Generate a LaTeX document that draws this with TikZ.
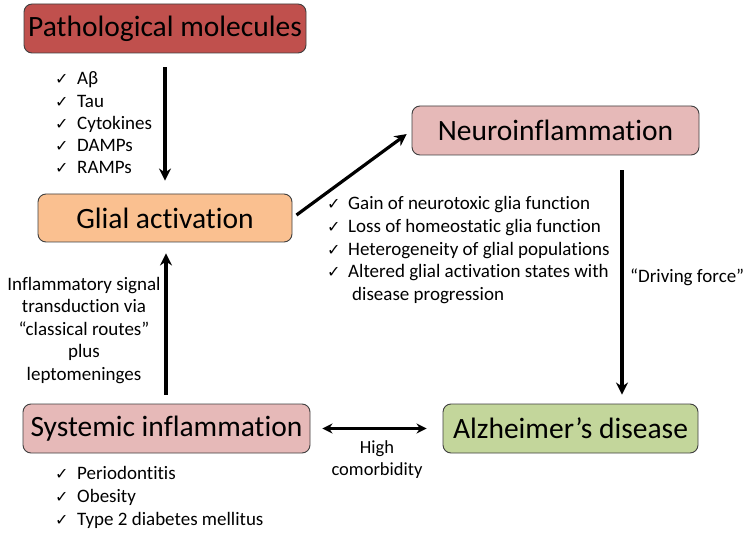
\documentclass[tikz,border=0pt]{standalone}
\usepackage{fontspec}
\setmainfont{Carlito}[Ligatures=NoCommon]
\newfontfamily\symfont{DejaVu Sans}
\usepackage{tikz}
\usetikzlibrary{arrows.meta}
\usetikzlibrary{positioning}

\definecolor{pathored}{HTML}{C0504D}
\definecolor{glialorange}{HTML}{FAC090}
\definecolor{inflpink}{HTML}{E6B9B8}
\definecolor{adgreen}{HTML}{C3D69B}
\definecolor{boxline}{HTML}{3F3F3F}

\newcommand{\ck}{{\symfont\fontsize{16}{16}\selectfont ✓}}

\tikzset{
  box/.style={draw=boxline, line width=0.9pt, rounded corners=8pt, inner sep=0pt,
              font=\fontsize{29.5}{34}\selectfont},
  item/.style={anchor=base west, inner sep=0pt, font=\fontsize{19}{22}\selectfont},
  chk/.style={anchor=base west, inner sep=0pt},
  arr/.style={line width=3.2pt, -{Stealth[length=12pt,width=12pt]}},
  darr/.style={line width=3.2pt, {Stealth[length=10pt,width=10pt]}-{Stealth[length=10pt,width=10pt]}}
}

\begin{document}
\begin{tikzpicture}[x=1pt, y=-1pt]
  \useasboundingbox (0,0) rectangle (749,537);

	%boxes
  \node[box, fill=pathored, minimum width=282pt, minimum height=49pt] (patho) at (165,28.5) {Pathological molecules};
  \node[box, fill=glialorange, minimum width=254pt, minimum height=48pt] (glial) at (165,218) {Glial activation};
  \node[box, fill=inflpink, minimum width=287pt, minimum height=49pt] (neuro) at (555.5,130.5) {Neuroinflammation};
  \node[box, fill=inflpink, minimum width=287pt, minimum height=49pt] (sys) at (166.5,428.5) {Systemic inflammation};
  \node[box, fill=adgreen, minimum width=255pt, minimum height=49pt] (alz) at (570.5,428.5) {Alzheimer’s disease};

	%molecule list
    \foreach \i/\txt in {0/Aβ,1/Tau,2/Cytokines,3/DAMPs,4/RAMPs}{
        \node[chk] (pc\i) at (55, 85+\i*22.2) {\ck};
        \node[item] (pm\i) at (77, 85+\i*22.2) {\txt};
    }

	%glia list
    \foreach \i/\txt in {0/Gain of neurotoxic glia function,1/Loss of homeostatic glia function,2/Heterogeneity of glial populations,3/Altered glial activation states with}{
        \node[chk] (nc\i) at (327, 210+\i*22.6) {\ck};
        \node[item] (ni\i) at (348, 210+\i*22.6) {\txt};
    }
    \node[item] (ni4) at (352, 300) {disease progression};

	%comorbidities
    \foreach \i/\txt in {0/Periodontitis,1/Obesity,2/Type 2 diabetes mellitus}{
        \node[chk] (sc\i) at (55, 479+\i*23) {\ck};
        \node[item] (si\i) at (77, 479+\i*23) {\txt};
    }

	%arrows
  \draw[arr, shorten <=14pt, shorten >=13pt] (patho.south) -- (glial.north);
  \draw[arr, shorten <=5pt, shorten >=6pt] (glial.east) -- (neuro.west);
  \draw[arr, shorten <=15pt, shorten >=9pt] ([xshift=66.5pt]neuro.south) -- ([xshift=51.5pt]alz.north);
  \draw[arr, shorten <=9pt, shorten >=11pt] ([xshift=-0.5pt]sys.north) -- ([xshift=1pt]glial.south);
  \draw[darr, shorten <=12pt, shorten >=16pt] (sys.east) -- (alz.west);

	%labels
  \node[anchor=base west, inner sep=0pt, font=\fontsize{19}{22}\selectfont] (drv) at (630,283) {“Driving force”};
  \node[anchor=base, inner sep=0pt, align=center, font=\fontsize{19}{22.5}\selectfont] (route) at (84,380)
        {Inflammatory signal\\transduction via\\“classical routes”\\plus\\leptomeninges};
  \node[anchor=base, inner sep=0pt, align=center, font=\fontsize{18.5}{22}\selectfont] (comorb) at (377,475)
        {High\\comorbidity};

\end{tikzpicture}
\end{document}
